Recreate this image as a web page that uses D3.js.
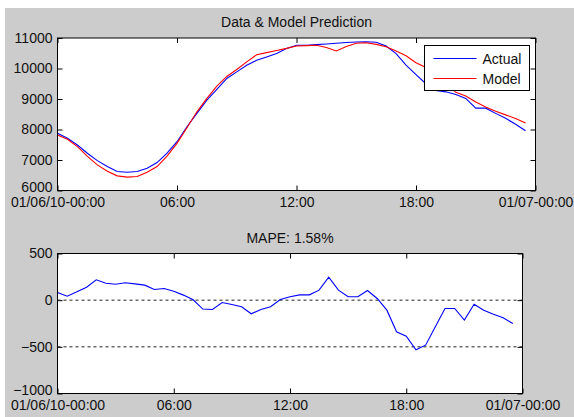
<!DOCTYPE html>
<html>
<head>
<meta charset="utf-8">
<script src="https://cdn.jsdelivr.net/npm/d3@7"></script>
<style>
  html, body { margin: 0; padding: 0; background: #fff; }
  svg { display: block; }
  text { font-family: "Liberation Sans", Arial, sans-serif; font-size: 14px; fill: #111; }
</style>
</head>
<body>
<div id="container"></div>
<script>
// half-hour samples, hours since 01/06/10 00:00
const hours = [0, 0.5, 1, 1.5, 2, 2.5, 3, 3.5, 4, 4.5, 5, 5.5, 6, 6.5, 7, 7.5,
  8, 8.5, 9, 9.5, 10, 10.5, 11, 11.5, 12, 12.5, 13, 13.5, 14, 14.5, 15, 15.5,
  16, 16.5, 17, 17.5, 18, 18.5, 19, 19.5, 20, 20.5, 21, 21.5, 22, 22.5, 23, 23.5]

const actual = [7876, 7712, 7493, 7222, 6980, 6784, 6621, 6600, 6621, 6732, 6915, 7222,
  7600, 8092, 8529, 8964, 9314, 9673, 9889, 10108, 10271, 10380, 10490, 10653,
  10761, 10761, 10784, 10804, 10827, 10850, 10870, 10875, 10862, 10739, 10490, 10108,
  9800, 9500, 9280, 9235, 9150, 9020, 8700, 8700, 8529, 8366, 8170, 7961]

const model = [7820, 7680, 7438, 7120, 6840, 6630, 6480, 6438, 6460, 6600, 6784, 7130,
  7545, 8060, 8580, 9020, 9422, 9740, 9967, 10216, 10450, 10520, 10590, 10660,
  10739, 10750, 10761, 10690, 10575, 10720, 10830, 10845, 10790, 10715, 10570, 10420,
  10190, 10030, 9770, 9520, 9220, 9100, 8900, 8740, 8600, 8480, 8360, 8210]

const error = [82, 43, 89, 139, 218, 182, 171, 186, 175, 161, 114, 125,
  96, 54, 4, -95, -100, -25, -46, -71, -146, -100, -71, 7,
  36, 57, 57, 107, 246, 107, 36, 36, 104, 18, -107, -339,
  -386, -532, -482, -286, -89, -89, -214, -43, -107, -150, -189, -250]

const xTicks = [0, 6, 12, 18, 24]
const xTickLabels = ['01/06/10-00:00', '06:00', '12:00', '18:00', '01/07-00:00']
const topYTicks = [6000, 7000, 8000, 9000, 10000, 11000]
const botYTicks = [-1000, -500, 0, 500]
const refLines = [0, -500]
const seriesNames = ['Actual', 'Model']
const seriesColors = ['#0000ff', '#ff0000']
const topTitle = 'Data & Model Prediction'
const botTitle = 'MAPE: 1.58%'

const W = 574, H = 417
const svg = d3.select('#container').append('svg').attr('width', W).attr('height', H)

// figure background
svg.append('rect').attr('x', 5).attr('y', 8).attr('width', W - 5).attr('height', H - 8)
    .attr('fill', '#cccccc')

const drawAxes = (box, yDomain, yTicks, title) => {
    const x = d3.scaleLinear().domain([0, 24]).range([box.left, box.right])
    const y = d3.scaleLinear().domain(yDomain).range([box.bottom, box.top])
    const g = svg.append('g')

    g.append('rect')
        .attr('x', box.left).attr('y', box.top)
        .attr('width', box.right - box.left).attr('height', box.bottom - box.top)
        .attr('fill', '#fff')

    const fmt = d => xTickLabels[xTicks.indexOf(d)]
    const bottomAx = g.append('g').attr('transform', `translate(0,${box.bottom})`)
        .call(d3.axisBottom(x).tickValues(xTicks).tickSize(-5).tickPadding(6).tickFormat(fmt))
    g.append('g').attr('transform', `translate(0,${box.top})`)
        .call(d3.axisTop(x).tickValues(xTicks).tickSize(-5).tickFormat(''))
    const leftAx = g.append('g').attr('transform', `translate(${box.left},0)`)
        .call(d3.axisLeft(y).tickValues(yTicks).tickSize(-5).tickPadding(5).tickFormat(d3.format('d')))
    g.append('g').attr('transform', `translate(${box.right},0)`)
        .call(d3.axisRight(y).tickValues(yTicks).tickSize(-5).tickFormat(''))

    g.selectAll('.domain').remove()
    g.selectAll('.tick line').attr('stroke', '#000')
    g.selectAll('.tick text').attr('font-size', 14).attr('font-family', '"Liberation Sans", Arial, sans-serif').attr('fill', '#111')
    bottomAx.selectAll('text').attr('dy', '0.72em')
    // lowest y label sits a little higher, as in the original
    leftAx.selectAll('.tick text').filter(d => d === yDomain[0]).attr('y', -3)

    svg.append('text')
        .attr('x', (box.left + box.right) / 2).attr('y', box.top - 11)
        .attr('text-anchor', 'middle')
        .text(title)

    return { x, y, g }
}

const finishBox = box => {
    svg.append('rect')
        .attr('x', box.left).attr('y', box.top)
        .attr('width', box.right - box.left).attr('height', box.bottom - box.top)
        .attr('fill', 'none').attr('stroke', '#000').attr('stroke-width', 1)
}

const line = (xs, ys, vals) => d3.line().x((d, i) => xs(hours[i])).y(d => ys(d))(vals)

// --- upper panel: data & model ---
const upperBox = { left: 57.5, right: 535.5, top: 38, bottom: 190.5 }
const upper = drawAxes(upperBox, [6000, 11000], topYTicks, topTitle)

;[actual, model].forEach((vals, k) => {
    svg.append('path')
        .attr('d', line(upper.x, upper.y, vals))
        .attr('fill', 'none')
        .attr('stroke', seriesColors[k])
        .attr('stroke-width', 1.1)
})
finishBox(upperBox)

// legend
const lg = { left: 424.5, top: 45.5, width: 105, height: 45 }
svg.append('rect')
    .attr('x', lg.left).attr('y', lg.top).attr('width', lg.width).attr('height', lg.height)
    .attr('fill', '#fff').attr('stroke', '#000')
seriesNames.forEach((name, k) => {
    const yy = lg.top + 13 + k * 20
    svg.append('line')
        .attr('x1', lg.left + 9).attr('x2', lg.left + 52)
        .attr('y1', yy).attr('y2', yy)
        .attr('stroke', seriesColors[k]).attr('stroke-width', 1.1)
    svg.append('text')
        .attr('x', lg.left + 58).attr('y', yy + 5)
        .text(name)
})

// --- lower panel: error ---
const lowerBox = { left: 57.5, right: 522.5, top: 253.5, bottom: 393.5 }
const lower = drawAxes(lowerBox, [-1000, 500], botYTicks, botTitle)

refLines.forEach(v => {
    svg.append('line')
        .attr('x1', lowerBox.left).attr('x2', lowerBox.right)
        .attr('y1', lower.y(v)).attr('y2', lower.y(v))
        .attr('stroke', '#222').attr('stroke-dasharray', '3,3')
})

svg.append('path')
    .attr('d', line(lower.x, lower.y, error))
    .attr('fill', 'none')
    .attr('stroke', seriesColors[0])
    .attr('stroke-width', 1.1)
finishBox(lowerBox)
</script>
</body>
</html>
